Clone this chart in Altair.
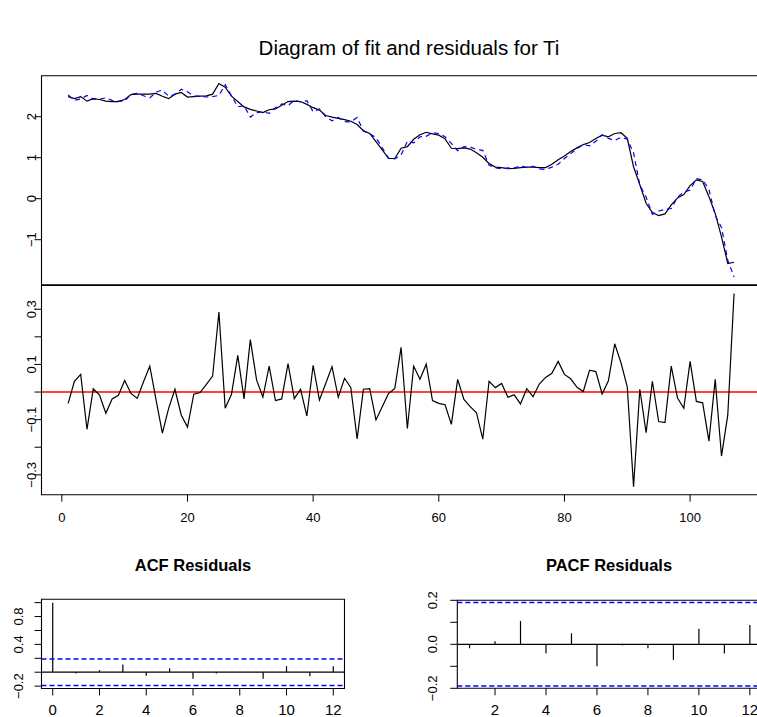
import altair as alt
import pandas as pd

# ---------------------------------------------------------------- data
t = list(range(1, 108))

observed = [
    2.49, 2.44, 2.49, 2.38, 2.44, 2.42, 2.38, 2.37, 2.37, 2.42,
    2.54, 2.55, 2.55, 2.55, 2.57, 2.50, 2.44, 2.55, 2.59, 2.48,
    2.49, 2.50, 2.51, 2.55, 2.81, 2.72, 2.50, 2.37, 2.24, 2.18,
    2.14, 2.10, 2.17, 2.19, 2.28, 2.37, 2.38, 2.37, 2.30, 2.22,
    2.16, 2.03, 1.99, 1.96, 1.93, 1.89, 1.81, 1.66, 1.59, 1.39,
    1.19, 0.98, 0.98, 1.23, 1.27, 1.45, 1.56, 1.62, 1.58, 1.55,
    1.46, 1.23, 1.22, 1.24, 1.21, 1.12, 1.01, 0.86, 0.77, 0.76,
    0.73, 0.74, 0.76, 0.77, 0.77, 0.76, 0.76, 0.84, 0.95, 1.04,
    1.15, 1.24, 1.32, 1.37, 1.47, 1.55, 1.51, 1.59, 1.61, 1.47,
    0.78, 0.34, -0.11, -0.34, -0.41, -0.37, -0.15, 0.02, 0.10, 0.32,
    0.46, 0.42, 0.05, -0.36, -0.93, -1.58, -1.55,
]

fitted = [
    2.53, 2.40, 2.43, 2.52, 2.43, 2.43, 2.46, 2.40, 2.38, 2.38,
    2.55, 2.57, 2.51, 2.46, 2.60, 2.65, 2.50, 2.54, 2.67, 2.61,
    2.50, 2.50, 2.48, 2.49, 2.52, 2.78, 2.51, 2.24, 2.27, 1.99,
    2.10, 2.12, 2.08, 2.22, 2.31, 2.27, 2.40, 2.36, 2.39, 2.12,
    2.19, 2.00, 1.90, 1.98, 1.88, 1.87, 1.98, 1.65, 1.58, 1.49,
    1.24, 0.99, 0.97, 1.07, 1.40, 1.36, 1.51, 1.52, 1.61, 1.59,
    1.51, 1.35, 1.17, 1.27, 1.26, 1.20, 1.18, 0.82, 0.75, 0.73,
    0.75, 0.75, 0.80, 0.76, 0.79, 0.73, 0.71, 0.77, 0.84, 0.98,
    1.10, 1.22, 1.32, 1.29, 1.40, 1.56, 1.47, 1.42, 1.50, 1.45,
    1.12, 0.33, 0.04, -0.38, -0.30, -0.26, -0.24, 0.04, 0.16, 0.21,
    0.49, 0.46, 0.23, -0.41, -0.70, -1.50, -1.91,
]

residuals = [
    -0.041, 0.039, 0.064, -0.135, 0.012, -0.011, -0.077, -0.025, -0.012, 0.042,
    -0.005, -0.023, 0.037, 0.094, -0.029, -0.149, -0.059, 0.010, -0.083, -0.127,
    -0.008, -0.002, 0.028, 0.058, 0.290, -0.059, -0.008, 0.133, -0.025, 0.190,
    0.043, -0.018, 0.094, -0.031, -0.025, 0.103, -0.024, 0.010, -0.087, 0.097,
    -0.029, 0.031, 0.092, -0.019, 0.050, 0.016, -0.170, 0.010, 0.012, -0.101,
    -0.053, -0.005, 0.013, 0.162, -0.132, 0.094, 0.046, 0.101, -0.031, -0.041,
    -0.046, -0.117, 0.046, -0.027, -0.053, -0.075, -0.171, 0.039, 0.016, 0.031,
    -0.019, -0.010, -0.043, 0.012, -0.017, 0.029, 0.053, 0.068, 0.111, 0.064,
    0.048, 0.017, 0.002, 0.079, 0.074, -0.007, 0.041, 0.175, 0.106, 0.019,
    -0.343, 0.010, -0.147, 0.039, -0.107, -0.111, 0.094, -0.022, -0.059, 0.111,
    -0.034, -0.039, -0.178, 0.046, -0.232, -0.083, 0.357,
]

acf_lags = list(range(0, 13))
acf_vals = [1.0, -0.02, 0.03, 0.11, -0.05, 0.057, -0.095, -0.02, -0.005,
            -0.095, 0.086, -0.057, 0.086]

pacf_lags = list(range(1, 13))
pacf_vals = [-0.018, 0.014, 0.106, -0.041, 0.05, -0.10, -0.005, -0.018,
             -0.071, 0.071, -0.042, 0.088]

conf_bound = [0.19, -0.19]

main_title = "Diagram of fit and residuals for Ti"
acf_title = "ACF Residuals"
pacf_title = "PACF Residuals"

# tick values and their labels
fit_yticks = [-1, 0, 1, 2]
fit_ylabels = ["\u22121", "0", "1", "2"]
res_yticks = [-0.3, -0.2, -0.1, 0.0, 0.1, 0.2, 0.3]
res_ylabels = ["\u22120.3", "", "\u22120.1", "", "0.1", "", "0.3"]
time_xticks = [0, 20, 40, 60, 80, 100]
acf_yticks = [-0.2, 0.0, 0.2, 0.4, 0.6, 0.8, 1.0]
acf_ylabels = ["\u22120.2", "", "", "0.4", "", "0.8", ""]
acf_xticks = [0, 2, 4, 6, 8, 10, 12]
pacf_yticks = [-0.2, -0.1, 0.0, 0.1, 0.2]
pacf_ylabels = ["\u22120.2", "", "0.0", "", "0.2"]
pacf_xticks = [2, 4, 6, 8, 10, 12]

FONT = "Liberation Sans"
TICK = 7

one = pd.DataFrame({"k": [0]})


def scale(domain, rng):
    return alt.Scale(domain=domain, range=rng, zero=False, nice=False)


class Panel:
    def __init__(self, xdom, xrng, ydom, yrng):
        self.xdom, self.xrng, self.ydom, self.yrng = xdom, xrng, ydom, yrng

    def sx(self):
        return scale(self.xdom, self.xrng)

    def sy(self):
        return scale(self.ydom, self.yrng)

    def box(self):
        return alt.Chart(one).mark_rect(
            fillOpacity=0, stroke="black", strokeWidth=1.1
        ).encode(
            x=alt.X(datum=self.xdom[0], type="quantitative", scale=self.sx(), axis=None),
            x2=alt.X2(datum=self.xdom[1]),
            y=alt.Y(datum=self.ydom[0], type="quantitative", scale=self.sy(), axis=None),
            y2=alt.Y2(datum=self.ydom[1]),
        )

    def hline(self, values, **style):
        df = pd.DataFrame({"h": values})
        return alt.Chart(df).mark_rule(**style).encode(
            y=alt.Y("h:Q", scale=self.sy(), axis=None),
            x=alt.X(datum=self.xdom[0], type="quantitative", scale=self.sx(), axis=None),
            x2=alt.X2(datum=self.xdom[1]),
        )

    def line(self, xs, ys, **style):
        df = pd.DataFrame({"x": xs, "y": ys})
        return alt.Chart(df).mark_line(**style).encode(
            x=alt.X("x:Q", scale=self.sx(), axis=None),
            y=alt.Y("y:Q", scale=self.sy(), axis=None),
        )

    def spikes(self, xs, ys, **style):
        df = pd.DataFrame({"x": xs, "y": ys})
        return alt.Chart(df).mark_rule(**style).encode(
            x=alt.X("x:Q", scale=self.sx(), axis=None),
            y=alt.Y("y:Q", scale=self.sy(), axis=None),
            y2=alt.Y2(datum=0),
        )

    def yaxis(self, ticks, labels, label_x, size):
        df = pd.DataFrame({"v": ticks, "s": labels})
        left = self.xrng[0]
        marks = alt.Chart(df).mark_rule(color="black", strokeWidth=1).encode(
            y=alt.Y("v:Q", scale=self.sy(), axis=None),
            x=alt.value(left - TICK),
            x2=alt.value(left),
        )
        text = alt.Chart(df).mark_text(
            angle=270, align="center", baseline="middle", font=FONT, fontSize=size
        ).encode(
            y=alt.Y("v:Q", scale=self.sy(), axis=None),
            x=alt.value(label_x),
            text="s:N",
        )
        return [marks, text]

    def xaxis(self, ticks, label_y, size):
        df = pd.DataFrame({"v": ticks, "s": [str(v) for v in ticks]})
        bottom = self.yrng[0]
        marks = alt.Chart(df).mark_rule(color="black", strokeWidth=1).encode(
            x=alt.X("v:Q", scale=self.sx(), axis=None),
            y=alt.value(bottom),
            y2=alt.value(bottom + TICK),
        )
        text = alt.Chart(df).mark_text(
            align="center", baseline="middle", font=FONT, fontSize=size
        ).encode(
            x=alt.X("v:Q", scale=self.sx(), axis=None),
            y=alt.value(label_y),
            text="s:N",
        )
        return [marks, text]


def heading(text, x, y, size, weight="normal"):
    return alt.Chart(one).mark_text(
        text=text, font=FONT, fontSize=size, fontWeight=weight,
        align="center", baseline="alphabetic"
    ).encode(x=alt.value(x), y=alt.value(y))


# ---------------------------------------------------------------- panels
fit_panel = Panel([-3.24, 111.24], [41.5, 760.7], [-2.10, 3.0], [284.8, 75.7])
res_panel = Panel([-3.24, 111.24], [41.5, 760.7], [-0.372, 0.386], [494.7, 285.5])
acf_panel = Panel([-0.48, 12.48], [41.5, 344.5], [-0.234, 1.048], [688.5, 599.3])
pacf_panel = Panel([0.52, 12.48], [457.3, 762.1], [-0.2, 0.2], [688.3, 600.3])

BLUE = "#0000ff"

layers = [
    heading(main_title, 409, 55, 20.5),
    # observed series with the fitted values on top
    fit_panel.line(t, observed, color="black", strokeWidth=1.2),
    fit_panel.line(t, fitted, color=BLUE, strokeWidth=1.2, strokeDash=[5, 4]),
    fit_panel.box(),
    *fit_panel.yaxis(fit_yticks, fit_ylabels, 32, 13),
    # residuals around zero
    res_panel.hline([0], color="#ff0000", strokeWidth=1.4),
    res_panel.line(t, residuals, color="black", strokeWidth=1.2),
    res_panel.box(),
    *res_panel.yaxis(res_yticks, res_ylabels, 32, 13),
    *res_panel.xaxis(time_xticks, 518, 13),
    # autocorrelation of the residuals
    heading(acf_title, 193, 571, 16.5, "bold"),
    acf_panel.hline([0], color="black", strokeWidth=1.2),
    acf_panel.spikes(acf_lags, acf_vals, color="black", strokeWidth=1.2),
    acf_panel.box(),
    acf_panel.hline(conf_bound, color=BLUE, strokeWidth=1.5, strokeDash=[5, 3]),
    *acf_panel.yaxis(acf_yticks, acf_ylabels, 19, 13),
    *acf_panel.xaxis(acf_xticks, 710, 15),
    # partial autocorrelation of the residuals
    heading(pacf_title, 609, 571, 16.5, "bold"),
    pacf_panel.hline([0], color="black", strokeWidth=1.2),
    pacf_panel.spikes(pacf_lags, pacf_vals, color="black", strokeWidth=1.2),
    pacf_panel.box(),
    pacf_panel.hline(conf_bound, color=BLUE, strokeWidth=1.5, strokeDash=[5, 3]),
    *pacf_panel.yaxis(pacf_yticks, pacf_ylabels, 433, 13),
    *pacf_panel.xaxis(pacf_xticks, 710, 15),
]

chart = (
    alt.layer(*layers)
    .resolve_scale(x="independent", y="independent")
    .properties(
        width=757,
        height=717,
        padding=0,
        autosize=alt.AutoSizeParams(type="none"),
        background="white",
    )
    .configure_view(stroke=None)
)

chart.save("out.html", embed_options={"renderer": "svg", "actions": False})
